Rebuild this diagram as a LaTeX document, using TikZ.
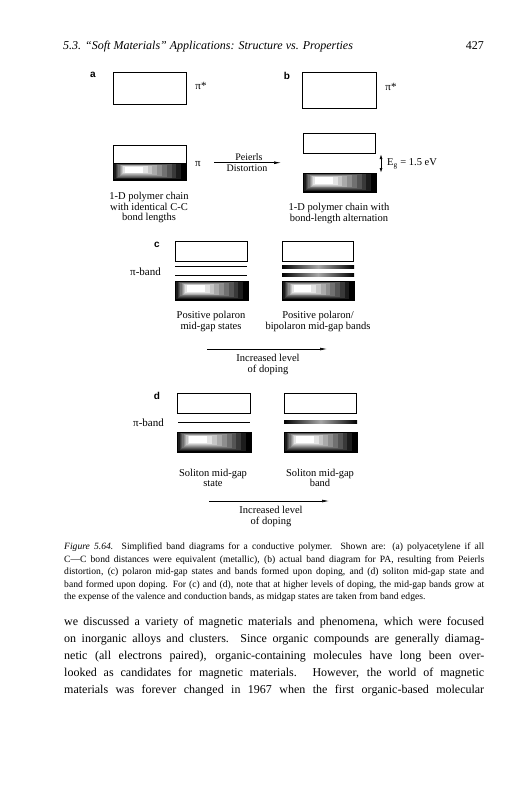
\documentclass[tikz,border=0pt]{standalone}
\usepackage{fontspec}
\setmainfont{Liberation Serif}
\newfontfamily\labfont{Liberation Sans}
\usetikzlibrary{arrows.meta}
\newcommand\gradbox[4]{%
  \foreach \k in {0,...,9}{%
    \pgfmathsetmacro\pc{max(0,100-\k*11.12)}%
    \fill[black!\pc] ({#1+\k*(#3-#1)*0.0178},{#2+\k*(#4-#2)*0.024}) rectangle ({#3-\k*(#3-#1)*0.0656},{#4-\k*(#4-#2)*0.048});
  }%
  \draw[line width=0.6pt] (#1,#2) rectangle (#3,#4);
}
\newcommand\jline[2]{\hbox to #1{#2}}
\tikzset{
  band/.style={draw=black, line width=0.7pt, fill=white},
  figtxt/.style={font=\fontsize{10.5}{10.8}\selectfont, align=center, inner sep=0pt},
  panel/.style={font=\labfont\bfseries\fontsize{10}{12}\selectfont, inner sep=0pt},
  sym/.style={font=\fontsize{11}{12}\selectfont, inner sep=0pt},
  arr/.style={line width=0.6pt, -{Latex[length=7pt,width=2.8pt]}},
  darr/.style={line width=0.6pt, {Latex[length=4.5pt,width=3pt]}-{Latex[length=4.5pt,width=3pt]}},
  midline/.style={line width=0.7pt},
  shadeline/.style={left color=black, right color=black, middle color=black!35},
  bodytxt/.style={anchor=base west, inner sep=0pt, font=\fontsize{12}{17}\selectfont},
  captxt/.style={anchor=base west, inner sep=0pt, font=\fontsize{9.6}{12.5}\selectfont},
}
\begin{document}
\begin{tikzpicture}[x=1pt,y=-1pt]
\fill[white] (0,0) rectangle (527,800);
\useasboundingbox (0,0) rectangle (527,800);
% header
\node[anchor=base west, inner sep=0pt, font=\fontsize{12}{14}\selectfont\itshape] (hdr) at (63,50) {5.3. “Soft Materials” Applications: Structure vs. Properties};
\node[anchor=base east, inner sep=0pt, font=\fontsize{12}{14}\selectfont] (pg) at (484,50) {427};
% ---------- panel a
\node[panel] (la) at (93,75) {a};
\draw[band] (113,72) rectangle (186,104);
\node[sym] (pista) at (201,86) {π*};
\draw[band] (113,145) rectangle (186,163);
\gradbox{113}{163}{186}{180}
\draw[line width=0.6pt] (113,145) rectangle (186,180);
\node[sym] (pia) at (198,164) {π};
\coordinate (pa1) at (214,162.7);
\coordinate (pa2) at (281,162.7);
\draw[arr] (pa1) -- (pa2);
\node[figtxt, font=\fontsize{10}{10}\selectfont] (peierls) at (249,157.5) {Peierls};
\node[figtxt, font=\fontsize{10}{10}\selectfont] (dist) at (247,168.5) {Distortion};
\node[figtxt] (ta) at (149,207.5) {1-D polymer chain\\with identical C-C\\bond lengths};
% ---------- panel b
\node[panel] (lb) at (287,76) {b};
\draw[band] (302,72) rectangle (376,108);
\node[sym] (pistb) at (391,87) {π*};
\draw[band] (303,133) rectangle (375,153);
\coordinate (ga) at (381,154.5);
\coordinate (gb) at (381,172.5);
\draw[darr] (ga) -- (gb);
\node[anchor=west, inner sep=0pt, font=\fontsize{10.5}{11}\selectfont] (eg) at (387,164) {E\textsubscript{g} = 1.5 eV};
\gradbox{303}{173}{376}{192}
\node[figtxt] (tb) at (339,213.5) {1-D polymer chain with\\bond-length alternation};
% ---------- panel c
\node[panel] (lc) at (157,245) {c};
\node[sym] (pbc) at (145.5,272) {π-band};
\draw[band] (175,241) rectangle (247,261);
\draw[midline] (175,266) -- (247,266);
\draw[midline] (175,275.7) -- (247,275.7);
\gradbox{175}{281}{248}{300}
\draw[band] (282,241) rectangle (353,261);
\shade[shadeline] (282,265.8) rectangle (354,268.2);
\shade[shadeline] (282,273.8) rectangle (354,276.2);
\gradbox{282}{281}{354}{300}
\node[figtxt] (tc1) at (211,321.5) {Positive polaron\\mid-gap states};
\node[figtxt] (tc2) at (318,321.5) {Positive polaron/\\bipolaron mid-gap bands};
\coordinate (ca1) at (207,349);
\coordinate (ca2) at (327,349);
\draw[arr] (ca1) -- (ca2);
\node[figtxt] (tc3) at (268,364.5) {Increased level\\of doping};
% ---------- panel d
\node[panel] (ld) at (157,396) {d};
\node[sym] (pbd) at (148.5,423) {π-band};
\draw[band] (177,393) rectangle (250,413);
\draw[midline] (178,422) -- (250,422);
\gradbox{177}{432}{251}{452}
\draw[band] (284,393) rectangle (356,413);
\shade[shadeline] (284,420.8) rectangle (357,423.2);
\gradbox{284}{432}{357}{452}
\node[figtxt] (td1) at (213,478) {Soliton mid-gap\\state};
\node[figtxt] (td2) at (320,478) {Soliton mid-gap\\band};
\coordinate (da1) at (209,501);
\coordinate (da2) at (329,501);
\draw[arr] (da1) -- (da2);
\node[figtxt] (td3) at (271,516.5) {Increased level\\of doping};
% ---------- caption
\node[captxt] (c1) at (64,549.5) {\jline{420pt}{\textit{Figure 5.64.} Simplified band diagrams for a conductive polymer. Shown are: (a) polyacetylene if all}};
\node[captxt] (c2) at (64,562) {\jline{420pt}{C—C bond distances were equivalent (metallic), (b) actual band diagram for PA, resulting from Peierls}};
\node[captxt] (c3) at (64,574.5) {\jline{420pt}{distortion, (c) polaron mid-gap states and bands formed upon doping, and (d) soliton mid-gap state and}};
\node[captxt] (c4) at (64,587) {\jline{420pt}{band formed upon doping. For (c) and (d), note that at higher levels of doping, the mid-gap bands grow at}};
\node[captxt] (c5) at (64,599.5) {the expense of the valence and conduction bands, as midgap states are taken from band edges.};
% ---------- body
\node[bodytxt] (b1) at (64,625) {\jline{420pt}{we discussed a variety of magnetic materials and phenomena, which were focused}};
\node[bodytxt] (b2) at (64,642) {\jline{420pt}{on inorganic alloys and clusters. Since organic compounds are generally diamag-}};
\node[bodytxt] (b3) at (64,659) {\jline{420pt}{netic (all electrons paired), organic-containing molecules have long been over-}};
\node[bodytxt] (b4) at (64,676) {\jline{420pt}{looked as candidates for magnetic materials. However, the world of magnetic}};
\node[bodytxt] (b5) at (64,693) {\jline{420pt}{materials was forever changed in 1967 when the first organic-based molecular}};
\end{tikzpicture}
\end{document}
